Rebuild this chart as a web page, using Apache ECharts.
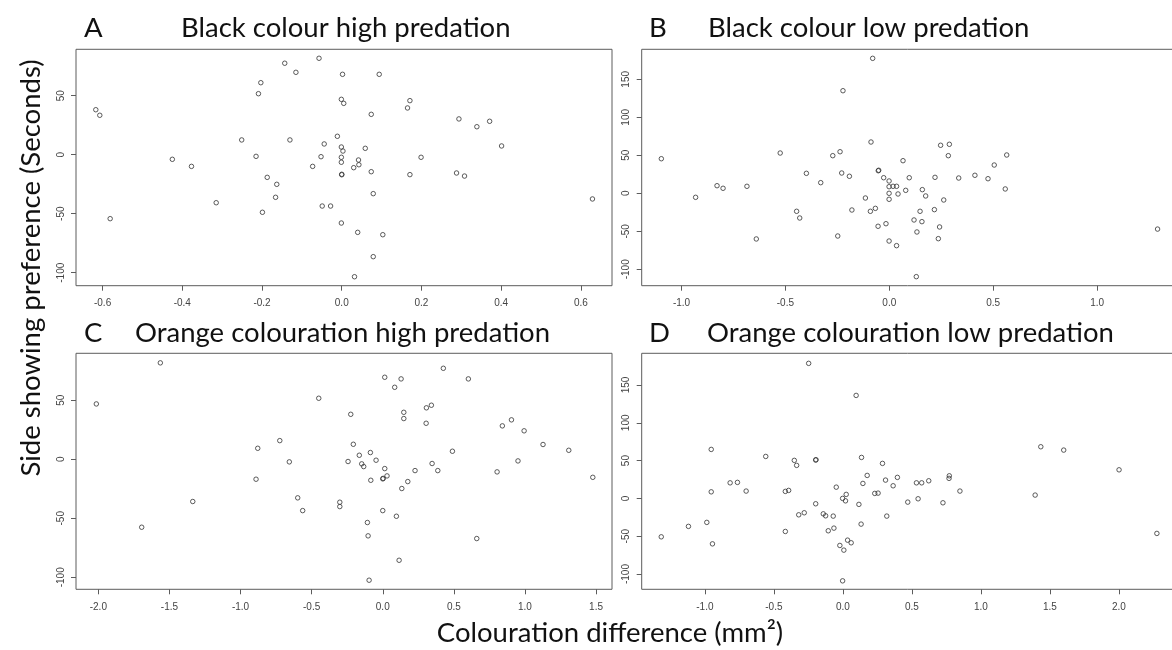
<!DOCTYPE html>
<html>
<head>
<meta charset="utf-8">
<script src="https://cdn.jsdelivr.net/npm/echarts@6/dist/echarts.min.js"></script>
<style>
  html, body { margin: 0; padding: 0; background: #fff; }
  #chart { width: 1172px; height: 650px; }
</style>
</head>
<body>
<div id="chart"></div>
<script>
// Colouration difference (mm²) and side preference (seconds), one pair of arrays per panel.

// A: black colour, high predation
const blackHighX = [-0.617, -0.607, -0.581, -0.425, -0.377, -0.315, -0.251, -0.215, -0.209, -0.203,
  -0.199, -0.187, -0.166, -0.163, -0.143, -0.130, -0.115, -0.073, -0.057, -0.052,
  -0.044, -0.049, -0.028, 0.002, 0.094, -0.001, 0.005, 0.171, 0.165, 0.074,
  0.294, 0.371, 0.339, -0.011, 0.401, -0.001, 0.003, 0.059, -0.001, 0.199,
  0.042, -0.001, 0.043, 0.030, 0.074, 0.000, 0.000, 0.171, 0.288, 0.308,
  0.079, -0.001, 0.040, 0.103, 0.079, 0.032, 0.629];
const blackHighY = [38.1, 33.4, -54.2, -3.9, -9.9, -40.7, 12.5, -1.4, 51.7, 61.0,
  -48.8, -19.2, -36.1, -25.1, 77.5, 12.5, 69.8, -9.9, 81.7, -1.7,
  9.1, -43.5, -43.5, 68.1, 68.1, 46.9, 43.5, 45.8, 39.6, 34.2,
  30.3, 28.3, 23.7, 15.6, 7.4, 6.5, 3.1, 5.4, -2.2, -2.2,
  -4.5, -6.4, -8.5, -11.0, -14.4, -16.6, -17.0, -16.9, -15.5, -18.1,
  -33.0, -57.9, -65.8, -67.8, -86.4, -103.4, -37.5];

// B: black colour, low predation
const blackLowX = [-1.097, -0.932, -0.829, -0.800, -0.685, -0.640, -0.525, -0.446, -0.431, -0.399,
  -0.330, -0.272, -0.248, -0.237, -0.229, -0.223, -0.192, -0.180, -0.115, -0.091,
  -0.088, -0.080, 0.247, 0.289, 0.284, 0.565, 0.066, 0.505, -0.053, -0.051,
  -0.027, -0.001, 0.096, 0.220, 0.334, 0.412, 0.475, -0.001, 0.018, 0.035,
  0.079, 0.159, 0.558, -0.001, 0.042, 0.175, -0.001, 0.262, -0.067, 0.217,
  0.148, 0.119, 0.157, -0.054, -0.016, 0.242, 0.133, 0.236, -0.001, 0.035,
  0.130, 1.291];
const blackLowY = [45.5, -5.3, 10.0, 6.6, 9.2, -60.1, 53.0, -23.7, -32.5, 26.3,
  14.0, 49.5, -56.2, 54.7, 26.7, 135.0, 22.4, -22.0, -6.2, -23.7,
  67.5, 177.6, 63.2, 64.5, 49.5, 50.4, 42.9, 37.2, 29.7, 30.3,
  20.5, 16.2, 20.5, 21.0, 20.1, 23.7, 19.2, 8.7, 9.2, 9.2,
  3.9, 4.8, 5.7, 0.0, -0.9, -3.5, -7.9, -8.8, -19.8, -21.5,
  -23.7, -35.1, -37.3, -43.4, -40.0, -44.3, -50.9, -59.7, -62.8, -68.9,
  -109.7, -47.1];

// C: orange colouration, high predation
const orangeHighX = [-2.014, -1.564, -1.695, -1.336, -0.879, -0.891, -0.724, -0.657, -0.598, -0.563,
  -0.450, 0.426, 0.014, 0.129, 0.602, 0.084, -0.225, 0.342, 0.307, 0.148,
  0.148, 0.305, 0.905, 0.841, 0.994, 1.127, 1.308, -0.207, 0.490, -0.087,
  -0.165, -0.047, -0.244, -0.148, -0.134, 0.347, 0.014, 0.951, 0.227, 0.387,
  0.804, 0.030, 0.000, 0.003, -0.084, 0.176, 0.134, -0.302, -0.302, 0.000,
  0.096, -0.108, -0.103, 0.661, 0.115, -0.096, 1.477];
const orangeHighY = [46.9, 81.7, -57.6, -35.8, 9.3, -16.9, 15.8, -2.2, -32.7, -43.5,
  51.7, 77.1, 69.5, 68.1, 68.1, 61.0, 38.1, 45.8, 43.6, 39.8,
  34.5, 30.5, 33.4, 28.3, 24.1, 12.5, 7.6, 12.7, 6.8, 5.7,
  3.4, -0.8, -1.9, -3.9, -6.2, -3.6, -7.9, -1.4, -9.6, -9.6,
  -10.7, -14.1, -16.6, -16.2, -17.8, -18.9, -24.8, -36.4, -40.1, -43.5,
  -48.3, -53.6, -64.9, -67.2, -85.6, -102.5, -15.3];

// D: orange colouration, low predation
const orangeLowX = [-1.316, -1.119, -0.986, -0.954, -0.954, -0.945, -0.817, -0.764, -0.701, -0.559,
  -0.417, -0.393, -0.417, -0.352, -0.335, -0.320, -0.280, -0.248, -0.197, -0.197,
  -0.195, -0.142, -0.125, -0.070, -0.106, -0.065, -0.048, -0.002, 0.024, 0.019,
  -0.022, 0.007, 0.034, 0.060, -0.002, 0.096, 0.116, 0.132, 0.135, 0.145,
  0.176, 0.287, 0.309, 0.395, 0.364, 0.231, 0.255, 0.318, 0.470, 0.533,
  0.571, 0.622, 0.545, 0.725, 0.771, 0.769, 0.848, 1.393, 1.434, 1.600,
  2.001, 2.275];
const orangeLowY = [-50.8, -37.0, -31.7, 64.8, 8.7, -60.1, 20.6, 21.2, 9.7, 55.5,
  9.3, 10.6, -43.7, 50.3, 43.7, -21.7, -19.0, 178.6, -7.1, 50.7,
  51.2, -20.4, -23.0, -23.4, -42.8, -39.3, 14.9, 0.0, 5.3, -3.2,
  -62.2, -68.4, -55.2, -58.7, -109.0, 136.2, -7.9, -34.0, 54.2, 19.8,
  30.4, 46.3, 24.2, 27.8, 16.7, 6.6, 7.0, -23.4, -4.9, 20.6,
  20.6, 23.3, -0.5, -5.8, 29.9, 26.5, 9.7, 4.4, 68.3, 63.9,
  37.8, -46.3];

// Tick positions per axis
const xTicksBlackHigh = [-0.6, -0.4, -0.2, 0.0, 0.2, 0.4, 0.6];
const xTicksBlackLow = [-1.0, -0.5, 0.0, 0.5, 1.0];
const xTicksOrangeHigh = [-2.0, -1.5, -1.0, -0.5, 0.0, 0.5, 1.0, 1.5];
const xTicksOrangeLow = [-1.0, -0.5, 0.0, 0.5, 1.0, 1.5, 2.0];
const yTicksHigh = [-100, -50, 0, 50];
const yTicksLow = [-100, -50, 0, 50, 100, 150];

// Panel letters and titles
const panelLetters = ['A', 'B', 'C', 'D'];
const panelTitles = [
  'Black colour high predation',
  'Black colour low predation',
  'Orange colouration high predation',
  'Orange colouration low predation'
];
const yAxisTitle = 'Side showing preference (Seconds)';
const xAxisTitle = 'Colouration difference (mm²)';

// Layout of the four plotting boxes (pixels) and their data ranges
const panels = [
  { box: { left: 76, top: 49.3, width: 536, height: 236.4 }, x: [-0.6667, 0.678], y: [-111.0, 89.3],
    xs: blackHighX, ys: blackHighY, xt: xTicksBlackHigh, yt: yTicksHigh },
  { box: { left: 641.7, top: 49.3, width: 535.3, height: 236.4 }, x: [-1.1915, 1.3845], y: [-121.6, 189.5],
    xs: blackLowX, ys: blackLowY, xt: xTicksBlackLow, yt: yTicksLow },
  { box: { left: 76, top: 353.3, width: 536, height: 236 }, x: [-2.157, 1.612], y: [-110.2, 89.8],
    xs: orangeHighX, ys: orangeHighY, xt: xTicksOrangeHigh, yt: yTicksHigh },
  { box: { left: 641.7, top: 353.3, width: 535.3, height: 236 }, x: [-1.4577, 2.4208], y: [-120.2, 191.9],
    xs: orangeLowX, ys: orangeLowY, xt: xTicksOrangeLow, yt: yTicksLow }
];

const frameColor = '#5c5c5c';
const tickFont = { fontFamily: '"Liberation Sans", Arial, sans-serif', fontSize: 10, color: '#444444' };
const headFont = '"Lato", "Open Sans", sans-serif';
const headSize = 27.5;

const grids = panels.map(p => Object.assign({
  show: true, borderColor: frameColor, borderWidth: 1, backgroundColor: 'transparent',
  containLabel: false, outerBoundsMode: 'none'
}, p.box));

const xAxes = panels.map((p, i) => ({
  type: 'value', gridIndex: i, min: p.x[0], max: p.x[1], position: 'bottom',
  axisLine: { show: false, onZero: false },
  splitLine: { show: false },
  axisTick: { show: true, length: 5, lineStyle: { color: frameColor, width: 1 }, customValues: p.xt },
  axisLabel: Object.assign({ customValues: p.xt, margin: 13, formatter: v => v.toFixed(1) }, tickFont)
}));

const yAxes = panels.map((p, i) => ({
  type: 'value', gridIndex: i, min: p.y[0], max: p.y[1], position: 'left',
  axisLine: { show: false, onZero: false },
  splitLine: { show: false },
  axisTick: { show: true, length: 5, lineStyle: { color: frameColor, width: 1 }, customValues: p.yt },
  axisLabel: Object.assign({ customValues: p.yt, margin: 10, rotate: 90, formatter: v => String(v) }, tickFont)
}));

const series = panels.map((p, i) => ({
  type: 'scatter', xAxisIndex: i, yAxisIndex: i,
  data: p.xs.map((x, k) => [x, p.ys[k]]),
  symbol: 'circle', symbolSize: 4.5,
  itemStyle: { color: 'rgba(0,0,0,0)', borderColor: '#333333', borderWidth: 1 },
  emphasis: { disabled: true },
  silent: true, animation: false
}));

// Headings: letter and title above each box (anchor = left end of the baseline)
const letterPos = [[84, 36], [649, 36], [84, 341], [649, 341]];
const titlePos = [[181, 36], [708, 36], [135, 341], [707, 341]];
const heading = (txt, x, y) => ({
  type: 'text', x: x, y: y, silent: true,
  style: { text: txt, font: headSize + 'px ' + headFont, fill: '#111', align: 'left', verticalAlign: 'bottom' }
});

const graphics = [];
panelLetters.forEach((l, i) => {
  graphics.push(heading(l, letterPos[i][0], letterPos[i][1] + 6));
  graphics.push(heading(panelTitles[i], titlePos[i][0], titlePos[i][1] + 6));
});
graphics.push({
  type: 'text', x: 31, y: 268, rotation: Math.PI / 2, silent: true,
  style: { text: yAxisTitle, font: headSize + 'px ' + headFont, fill: '#111', align: 'center', verticalAlign: 'middle' }
});
graphics.push({
  type: 'text', x: 610, y: 633, silent: true,
  style: { text: xAxisTitle, font: headSize + 'px ' + headFont, fill: '#111', align: 'center', verticalAlign: 'middle' }
});

const chart = echarts.init(document.getElementById('chart'), null, { renderer: 'canvas' });
chart.setOption({
  animation: false,
  backgroundColor: '#ffffff',
  grid: grids,
  xAxis: xAxes,
  yAxis: yAxes,
  series: series,
  graphic: graphics
});
</script>
</body>
</html>
